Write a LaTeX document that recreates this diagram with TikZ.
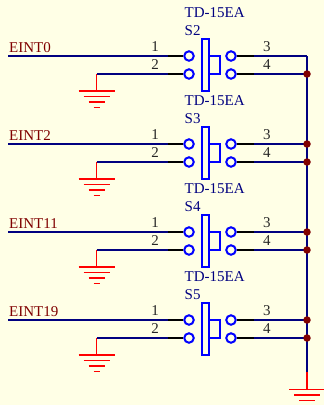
\documentclass[tikz,border=0pt]{standalone}
\usepackage{fontspec}
\setmainfont{Liberation Serif}
\usetikzlibrary{positioning}
\definecolor{sheetbg}{RGB}{255,255,230}
\definecolor{netred}{RGB}{128,0,0}
\definecolor{wireblue}{RGB}{0,0,128}
\definecolor{partblue}{RGB}{0,0,255}

\begin{document}
\begin{tikzpicture}[
    x=1pt, y=-1pt,
    every node/.style={font=\fontsize{15}{18}\selectfont},
    wire/.style={draw=wireblue, line width=2pt},
    lead/.style={draw=black, line width=2pt},
    gndline/.style={draw=red, line width=1.6pt},
    contact/.style={draw=partblue, circle, line width=2pt, minimum size=9.5pt, inner sep=0pt},
    plate/.style={draw=partblue, rectangle, line width=2pt, inner sep=0pt},
    pinno/.style={above, inner sep=3.5pt, text=black!85},
    partlabel/.style={anchor=base west, inner sep=0pt, text=wireblue},
    netlabel/.style={inner sep=0pt, text=netred},
    junction/.style={fill=netred, circle, minimum size=7.5pt, inner sep=0pt},
    gnd/.pic={
        \draw[gndline] (-18,0) -- (18,0);
        \draw[gndline] (-13,5.5) -- (13,5.5);
        \draw[gndline] (-8,11) -- (8,11);
        \draw[gndline] (-3,16.5) -- (3,16.5);
    }
]
    \fill[sheetbg] (0,0) rectangle (324,405);
    \clip (0,0) rectangle (324,405);
    \useasboundingbox (0,0) rectangle (324,405);

    % one push button per row
    \foreach \s/\net/\row in {2/EINT0/0, 3/EINT2/88, 4/EINT11/176, 5/EINT19/264} {
        \node (val\s) [partlabel] at (184.5,17.5+\row) {TD-15EA};
        \node (ref\s) [partlabel] at (184.5,35+\row) {S\s};
        \node (bar\s) [plate, minimum width=6.5pt, minimum height=51.5pt] at (205.5,65+\row) {};
        \node (knob\s) [plate, minimum width=11pt, minimum height=18pt] at (214.2,65+\row) {};

        \node (pa\s) [contact] at (189,56+\row) {};
        \node (pb\s) [contact] at (189,74+\row) {};
        \node (pc\s) [contact] at (231,56+\row) {};
        \node (pd\s) [contact] at (231,74+\row) {};

        \coordinate (in\s) at (8,56+\row);
        \coordinate (la\s) at (168,56+\row);
        \coordinate (lb\s) at (168,74+\row);
        \coordinate (lc\s) at (254,56+\row);
        \coordinate (ld\s) at (254,74+\row);
        \coordinate (rc\s) at (307,56+\row);
        \coordinate (rd\s) at (307,74+\row);
        \coordinate (gt\s) at (96.5,74+\row);
        \coordinate (gb\s) at (96.5,91+\row);

        \node (net\s) [netlabel, above right=3.5pt and 1pt of in\s] {\net};

        \draw [lead] (la\s) -- (pa\s);
        \draw [lead] (lb\s) -- (pb\s);
        \draw [lead] (pc\s) -- (lc\s);
        \draw [lead] (pd\s) -- (ld\s);
        \draw [wire] (in\s) -- node[pinno, pos=0.919] {1} (la\s);
        \draw [wire] (gt\s) -- node[pinno, pos=0.819] {2} (lb\s);
        \draw [wire] (lc\s) -- node[pinno, pos=0.245] {3} (rc\s);
        \draw [wire] (ld\s) -- node[pinno, pos=0.245] {4} (rd\s);
        \draw [gndline] (gt\s) -- (gb\s);
        \pic at (gb\s) {gnd};
    }

    % common rail down to the ground
    \coordinate (railend) at (307,372);
    \coordinate (railgnd) at (307,389.5);
    \draw [wire] (rc2) -- (railend);
    \draw [gndline] (railend) -- (railgnd);
    \pic at (railgnd) {gnd};

    \node (dot2) [junction] at (rd2) {};
    \foreach \s in {3,4,5} {
        \node (dotc\s) [junction] at (rc\s) {};
        \node (dotd\s) [junction] at (rd\s) {};
    }
\end{tikzpicture}
\end{document}
